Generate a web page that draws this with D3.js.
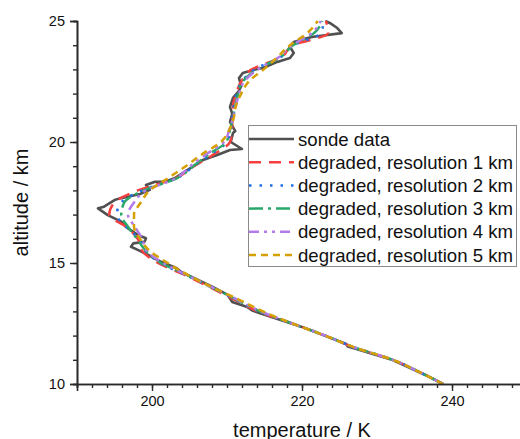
<!DOCTYPE html>
<html>
<head>
<meta charset="utf-8">
<script src="https://cdn.jsdelivr.net/npm/d3@7"></script>
<style>
  html, body { margin: 0; padding: 0; background: #fff; }
  svg { display: block; }
  text { font-family: "Liberation Sans", Arial, sans-serif; }
</style>
</head>
<body>
<svg id="chart" width="520" height="439"></svg>
<script>
// ---------- data ----------
const sondeAlt = [10.0, 10.15, 10.35, 10.99, 11.49, 11.55, 11.65, 12.37, 12.92, 13.05, 13.18, 13.39, 13.68, 14.01, 14.63, 14.78,
  15.05, 15.33, 15.54, 15.67, 15.81, 15.88, 16.02, 16.16, 16.43, 16.71, 16.98, 17.26, 17.31, 17.60, 17.67, 17.74, 17.85,
  18.02, 18.22, 18.36, 18.36, 18.50, 18.84, 19.26, 19.46, 19.67, 19.71, 20.0, 20.37, 20.45, 20.83, 21.16, 21.45, 21.82,
  22.07, 22.31, 22.64, 22.85, 22.98, 23.06, 23.31, 23.47, 23.68, 23.93, 24.13, 24.21, 24.34, 24.50, 24.71, 24.92, 25.0];
const sondeTemp = [238.8, 237.9, 236.6, 232.1, 226.8, 226.1, 225.9, 219.9, 214.4, 213.3, 212.7, 210.7, 210.1, 208.1, 203.9, 203.3,
  201.2, 199.5, 198.1, 197.2, 197.5, 199.0, 199.2, 198.1, 196.8, 195.9, 194.1, 192.8, 193.5, 195.0, 195.7, 196.8, 198.4,
  199.7, 199.2, 200.4, 201.7, 203.0, 204.7, 206.8, 208.7, 210.4, 212.0, 210.5, 210.8, 211.1, 210.4, 210.7, 210.4, 210.8,
  211.5, 211.9, 211.6, 212.1, 213.5, 214.8, 216.7, 218.4, 218.9, 218.4, 218.9, 219.7, 221.3, 225.3, 224.7, 223.7, 223.1];

const altGrid = [10, 10.5, 11, 11.5, 12, 12.5, 13, 13.5, 14, 14.5, 15, 15.5, 16, 16.5, 17, 17.5, 18, 18.5, 19, 19.5,
  20, 20.5, 21, 21.5, 22, 22.5, 23, 23.5, 24, 24.5, 25];
const res1km = [238.8, 235.6, 232.1, 227.0, 223.1, 218.7, 214.1, 210.9, 207.7, 204.4, 200.8, 198.7, 198.1, 196.5, 194.3, 195.0,
  198.1, 203.1, 205.6, 208.3, 210.4, 210.7, 210.7, 210.8, 211.2, 211.9, 213.3, 217.2, 218.8, 223.5, 223.2];
const res2km = [238.8, 235.6, 232.1, 227.1, 223.1, 218.7, 214.3, 211.1, 207.9, 204.5, 201.1, 199.1, 198.3, 196.5, 195.3, 195.9,
  198.7, 203.2, 205.6, 207.9, 210.0, 210.5, 210.7, 210.9, 211.3, 212.0, 213.7, 217.1, 218.9, 222.5, 222.9];
const res3km = [238.8, 235.6, 232.1, 227.1, 223.1, 218.7, 214.4, 211.2, 207.9, 204.7, 201.2, 199.2, 198.0, 196.8, 195.9, 196.3,
  198.9, 203.3, 205.5, 207.6, 209.9, 210.4, 210.8, 211.1, 211.5, 212.1, 214.0, 217.1, 218.8, 221.6, 222.7];
const res4km = [238.8, 235.6, 232.1, 227.1, 223.1, 218.7, 214.5, 211.3, 208.0, 204.7, 201.5, 199.3, 198.7, 197.7, 196.8, 197.6,
  199.2, 203.2, 205.1, 207.3, 209.6, 210.3, 210.8, 211.2, 211.6, 212.3, 214.1, 216.9, 218.7, 221.3, 222.5];
const res5km = [238.8, 235.6, 232.1, 227.1, 223.1, 218.7, 214.8, 211.5, 208.0, 204.8, 202.1, 199.7, 198.4, 197.6, 197.6, 198.5,
  199.7, 202.1, 204.5, 206.7, 209.2, 210.3, 210.9, 211.2, 211.9, 212.9, 214.9, 216.7, 218.4, 220.7, 222.1];

const legendLabels = ["sonde data", "degraded, resolution 1 km", "degraded, resolution 2 km",
  "degraded, resolution 3 km", "degraded, resolution 4 km", "degraded, resolution 5 km"];
const xMajorTicks = [200, 220, 240];
const yMajorTicks = [10, 15, 20, 25];
const xTitle = "temperature / K";
const yTitle = "altitude / km";

// ---------- styles ----------
const styles = [
  { color: "#505050", dash: null, width: 2.6, cap: "butt" },
  { color: "#f5403f", dash: "12,8", width: 2.5, cap: "butt" },
  { color: "#1f6fe6", dash: "2.5,8", width: 2.5, cap: "butt" },
  { color: "#2aa86a", dash: "14,5,3,5", width: 2.5, cap: "butt" },
  { color: "#b47ae8", dash: "10,5,3,5,3,5", width: 2.5, cap: "butt" },
  { color: "#d6a000", dash: "7,5", width: 2.5, cap: "butt" }
];

// ---------- scales ----------
const svg = d3.select("#chart");
const x = d3.scaleLinear().domain([190, 250]).range([77, 527]);
const y = d3.scaleLinear().domain([10, 25]).range([384, 21]);

// ---------- lines ----------
const sondeLine = d3.line().x(d => x(d[0])).y(d => y(d[1]));
const smoothLine = d3.line().x(d => x(d[0])).y(d => y(d[1])).curve(d3.curveMonotoneY);

const sondePts = sondeTemp.map((t, i) => [t, sondeAlt[i]]);
const degraded = [res1km, res2km, res3km, res4km, res5km].map(arr => arr.map((t, i) => [t, altGrid[i]]));

const gLines = svg.append("g");
gLines.append("path").attr("d", sondeLine(sondePts))
  .attr("fill", "none").attr("stroke", styles[0].color).attr("stroke-width", styles[0].width)
  .attr("stroke-linejoin", "round");
degraded.forEach((pts, i) => {
  const s = styles[i + 1];
  gLines.append("path").attr("d", smoothLine(pts))
    .attr("fill", "none").attr("stroke", s.color).attr("stroke-width", s.width)
    .attr("stroke-dasharray", s.dash).attr("stroke-linecap", s.cap);
});

// ---------- axes ----------
const axisColor = "#2a2a2a";
function styleAxis(g) {
  g.select(".domain").attr("stroke", axisColor).attr("stroke-width", 1.6);
  g.selectAll(".tick line").attr("stroke", axisColor).attr("stroke-width", 1.4);
  g.selectAll(".tick text").attr("fill", "#111").style("font-size", "14.5px")
    .style("font-family", "'Liberation Sans', Arial, sans-serif");
}

// x minor
svg.append("g").attr("transform", "translate(0,384)")
  .call(d3.axisBottom(x).tickValues(d3.range(190, 251, 2)).tickSize(4).tickFormat(""))
  .call(styleAxis);
// x major
svg.append("g").attr("transform", "translate(0,384)")
  .call(d3.axisBottom(x).tickValues(xMajorTicks).tickSize(7).tickPadding(5).tickFormat(d3.format("d")))
  .call(styleAxis);
// y minor
svg.append("g").attr("transform", "translate(77,0)")
  .call(d3.axisLeft(y).tickValues(d3.range(10, 25.01, 1)).tickSize(4).tickFormat(""))
  .call(styleAxis);
// y major
svg.append("g").attr("transform", "translate(77,0)")
  .call(d3.axisLeft(y).tickValues(yMajorTicks).tickSize(7).tickPadding(5).tickFormat(d3.format("d")))
  .call(styleAxis);

// titles
svg.append("text").attr("x", (x(190) + x(250)) / 2).attr("y", 437)
  .attr("text-anchor", "middle").style("font-size", "20px").attr("fill", "#111").text(xTitle);
svg.append("text").attr("transform", `translate(28,${(y(10) + y(25)) / 2}) rotate(-90)`)
  .attr("text-anchor", "middle").style("font-size", "20px").attr("fill", "#111").text(yTitle);

// ---------- legend ----------
const lg = svg.append("g");
lg.append("rect").attr("x", 248.5).attr("y", 125.5).attr("width", 268).attr("height", 141)
  .attr("fill", "#fff").attr("stroke", "#8a8a8a").attr("stroke-width", 1);
legendLabels.forEach((lab, i) => {
  const cy = 139 + i * 23.2;
  const s = styles[i];
  lg.append("line").attr("x1", 249).attr("x2", 294).attr("y1", cy).attr("y2", cy)
    .attr("stroke", s.color).attr("stroke-width", s.width)
    .attr("stroke-dasharray", s.dash).attr("stroke-linecap", s.cap);
  lg.append("text").attr("x", 298).attr("y", cy).attr("dy", "0.35em")
    .style("font-size", "18.6px").attr("fill", "#111").text(lab);
});
</script>
</body>
</html>
